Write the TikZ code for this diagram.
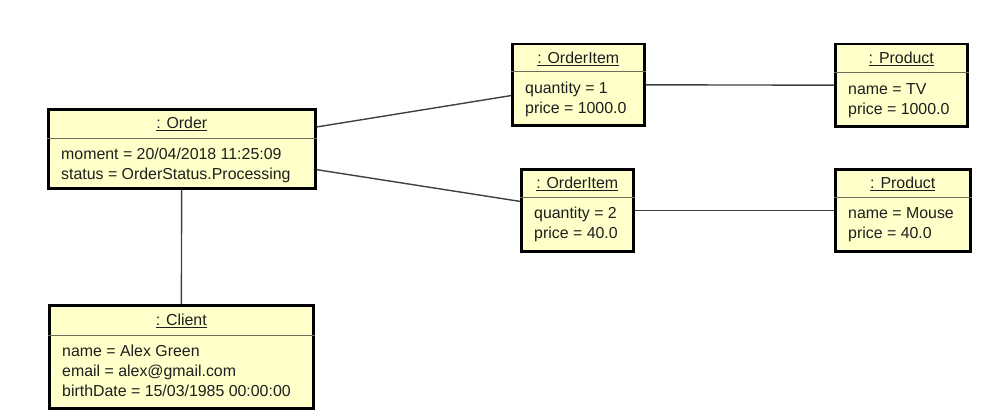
\documentclass[tikz,border=0pt]{standalone}
\usepackage{fontspec}
\setmainfont{Liberation Sans}
\usetikzlibrary{positioning}

\definecolor{objfill}{RGB}{255,255,202}
\definecolor{divgray}{RGB}{110,108,90}
\definecolor{linkgray}{RGB}{64,64,64}
\definecolor{textgray}{RGB}{30,30,30}

% #1 name, #2 x, #3 y, #4 width, #5 height, #6 title height, #7 title, #8 attributes
\newcommand{\umlobject}[8]{%
  \fill[objshadow] (#2+3,#3+3) rectangle ++(#4,#5);
  \node[objbox,minimum width=#4pt,minimum height=#5pt] (#1) at (#2,#3) {};
  \draw[divline] ([yshift=-#6pt]#1.north west) -- ([yshift=-#6pt]#1.north east);
  \node[objtitle] (#1-title) at ([yshift=-0.5*#6pt-1pt]#1.north) {\underline{#7}};
  \node[objattr] (#1-attr) at ([xshift=14pt,yshift=-#6pt-10pt]#1.north west) {#8};
}

\begin{document}
\begin{tikzpicture}[x=1pt,y=-1pt,
  objbox/.style={draw=black,line width=2.5pt,fill=objfill,anchor=north west,inner sep=0pt},
  objshadow/.style={black!10},
  divline/.style={draw=divgray,line width=1pt},
  objtitle/.style={font=\fontsize{15.9}{20}\selectfont,text=textgray,inner sep=0pt},
  objattr/.style={font=\fontsize{15.9}{20}\selectfont,text=textgray,anchor=north west,align=left,inner sep=0pt},
  link/.style={draw=linkgray,line width=1.4pt}]

\useasboundingbox (0,0) rectangle (993,412);

\umlobject{order}{47}{108}{267}{79}{30}{: Order}{moment = 20/04/2018 11:25:09\\status = OrderStatus.Processing}
\umlobject{item1}{511}{43}{132}{81}{29}{: OrderItem}{quantity = 1\\price = 1000.0}
\umlobject{item2}{520}{168}{112}{82}{29}{: OrderItem}{quantity = 2\\price = 40.0}
\umlobject{prod1}{834}{43}{132}{82}{30}{: Product}{name = TV\\price = 1000.0}
\umlobject{prod2}{834}{168}{135}{82}{29}{: Product}{name = Mouse\\price = 40.0}
\umlobject{client}{48}{304}{264}{103}{31}{: Client}{name = Alex Green\\email = alex@gmail.com\\birthDate = 15/03/1985 00:00:00}

% links
\draw[link] (order) -- (item1);
\draw[link] (order) -- (item2);
\draw[link] (item1) -- (prod1);
\draw[link] (item2) -- (prod2);
\draw[link] (order) -- (client);

\end{tikzpicture}
\end{document}
